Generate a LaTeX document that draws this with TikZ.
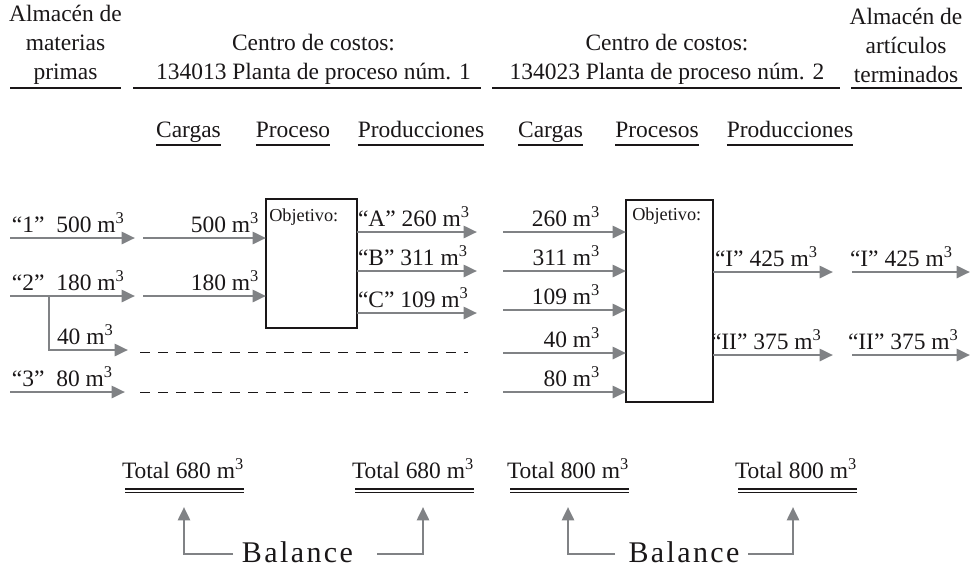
\documentclass[tikz,border=0pt]{standalone}
\usepackage{fontspec}
\setmainfont{Liberation Serif}
\usetikzlibrary{arrows.meta}
\definecolor{ink}{HTML}{1A1718}
\definecolor{flowgray}{HTML}{808285}
\newcommand{\cubm}{m\textsuperscript{3}}
\begin{document}
\begin{tikzpicture}[x=0.75pt,y=-0.75pt,
  font=\fontsize{17.6}{21.75}\selectfont, text=ink,
  flow/.style={draw=flowgray, line width=2pt, -{Triangle[length=10pt,width=9pt]}},
  lbl/.style={inner sep=0pt, outer sep=0pt},
  hdr/.style={inner sep=0pt, align=center},
  uline/.style={draw=ink, line width=0.9pt},
  procbox/.style={draw=ink, line width=0.8pt, inner sep=0pt, outer sep=0pt, anchor=north west},
  obj/.style={inner sep=0pt, anchor=base west, font=\fontsize{13.7}{16}\selectfont},
  dashline/.style={draw=ink, line width=0.7pt, dash pattern=on 7.5pt off 6pt},
  bal/.style={font=\fontsize{22.5}{26}\selectfont\addfontfeatures{LetterSpace=8}, inner sep=0pt, text depth=0pt, anchor=base},
]
\useasboundingbox (0,0) rectangle (972,569);

% ---------- headers ----------
\node[hdr] (wh1) at (65.5,45) {Almacén de\\materias\\primas};
\node[hdr] (cc1) at (313.5,59) {Centro de costos:\\134013 Planta de proceso núm. 1};
\node[hdr] (cc2) at (667,59) {Centro de costos:\\134023 Planta de proceso núm. 2};
\node[hdr] (wh2) at (906,45) {Almacén de\\artículos\\terminados};
\draw[uline] (10,88) -- (121,88);
\draw[uline] (133,88) -- (481,88);
\draw[uline] (492,88) -- (840,88);
\draw[uline] (851,88) -- (962,88);

% ---------- column headers ----------
\foreach \n/\x/\t in {c1/188.5/Cargas, c2/293/Proceso, c3/421/Producciones,
                      c4/550.5/Cargas, c5/657/Procesos, c6/790/Producciones}{
  \node[lbl, anchor=base] (\n) at (\x,137) {\t};
  \draw[uline] ([yshift=-6pt]\n.base west) -- ([yshift=-6pt]\n.base east);
}

% ---------- process boxes ----------
\node[procbox, minimum width=68.25pt, minimum height=96.75pt] (p1) at (266,199) {};
\node[procbox, minimum width=65.25pt, minimum height=151.5pt] (p2) at (626,200) {};
\node[obj] (o1) at (269,221) {Objetivo:};
\node[obj] (o2) at (632,220) {Objetivo:};

% ---------- left section ----------
\coordinate (r1a) at (10,238);  \coordinate (r1b) at (135,238); \coordinate (r1c) at (143,238);
\coordinate (r2a) at (10,296);  \coordinate (r2b) at (135,296); \coordinate (r2c) at (143,296);
\coordinate (br)  at (49,296);  \coordinate (r40) at (128,350);
\coordinate (r3a) at (10,392);  \coordinate (r3b) at (125,392);
\draw[flow] (r1a) -- (r1b);
\draw[flow] (r1c) -- (r1c -| p1.west);
\draw[flow] (r2a) -- (r2b);
\draw[flow] (r2c) -- (r2c -| p1.west);
\draw[flow] (br) |- (r40);
\draw[flow] (r3a) -- (r3b);

\node[lbl, anchor=base west] (l1) at (12,232) {“1”\ \ 500 \cubm};
\node[lbl, anchor=base east] (l1b) at (259,232) {500 \cubm};
\node[lbl, anchor=base west] (l2) at (12,290) {“2”\ \ 180 \cubm};
\node[lbl, anchor=base east] (l2b) at (259,290) {180 \cubm};
\node[lbl, anchor=base west] (l40) at (57,344) {40 \cubm};
\node[lbl, anchor=base west] (l3) at (12,386) {“3”\ \ 80 \cubm};

% dashed carry-over lines
\coordinate (d1a) at (140,352); \coordinate (d1b) at (468,352);
\coordinate (d2a) at (140,392); \coordinate (d2b) at (468,392);
\draw[dashline] (d1a) -- (d1b);
\draw[dashline] (d2a) -- (d2b);

% outputs of plant 1
\coordinate (oa) at (477,232); \coordinate (ob) at (477,271); \coordinate (oc) at (477,313);
\draw[flow] (p1.east |- oa) -- (oa);
\draw[flow] (p1.east |- ob) -- (ob);
\draw[flow] (p1.east |- oc) -- (oc);
\node[lbl, anchor=base west] (la) at (358,226) {“A” 260 \cubm};
\node[lbl, anchor=base west] (lb) at (358,265) {“B” 311 \cubm};
\node[lbl, anchor=base west] (lc) at (358,307) {“C” 109 \cubm};

% ---------- right section ----------
\foreach \n/\y/\t in {i1/232/260, i2/271/311, i3/310/109, i4/353/40, i5/392/80}{
  \coordinate (\n) at (503,\y);
  \draw[flow] (\n) -- (\n -| p2.west);
  \node[lbl, anchor=base east] (\n l) at (600,\y-6) {\t\ \cubm};
}

\coordinate (q1) at (833,272); \coordinate (q2) at (833,355);
\draw[flow] (p2.east |- q1) -- (q1);
\draw[flow] (p2.east |- q2) -- (q2);
\node[lbl, anchor=base west] (lq1) at (715,266) {“I” 425 \cubm};
\node[lbl, anchor=base west] (lq2) at (711,349) {“II” 375 \cubm};

\coordinate (w1a) at (852,272); \coordinate (w1b) at (970,272);
\coordinate (w2a) at (852,355); \coordinate (w2b) at (970,355);
\draw[flow] (w1a) -- (w1b);
\draw[flow] (w2a) -- (w2b);
\node[lbl, anchor=base west] (lw1) at (850,266) {“I” 425 \cubm};
\node[lbl, anchor=base west] (lw2) at (848,349) {“II” 375 \cubm};

% ---------- totals ----------
\foreach \n/\x/\t in {t1/122/680, t2/352/680, t3/507/800, t4/735/800}{
  \node[lbl, anchor=base west] (\n) at (\x,478) {Total \t\ \cubm};
  \draw[uline] ([xshift=2.5pt,yshift=-8.25pt]\n.base west) -- ([yshift=-8.25pt]\n.base east);
  \draw[uline] ([xshift=2.5pt,yshift=-10.75pt]\n.base west) -- ([yshift=-10.75pt]\n.base east);
}

% ---------- balance ----------
\node[bal] (bal1) at (297.5,562) {Balance};
\node[bal] (bal2) at (684,562) {Balance};
\coordinate (u1) at (184,507); \coordinate (u2) at (423,507);
\coordinate (u3) at (568,507); \coordinate (u4) at (793,507);
\coordinate (h1) at (233,554); \coordinate (h2) at (377,554);
\coordinate (h3) at (615,554); \coordinate (h4) at (748,554);
\draw[flow] (h1) -| (u1);
\draw[flow] (h2) -| (u2);
\draw[flow] (h3) -| (u3);
\draw[flow] (h4) -| (u4);
\end{tikzpicture}
\end{document}
